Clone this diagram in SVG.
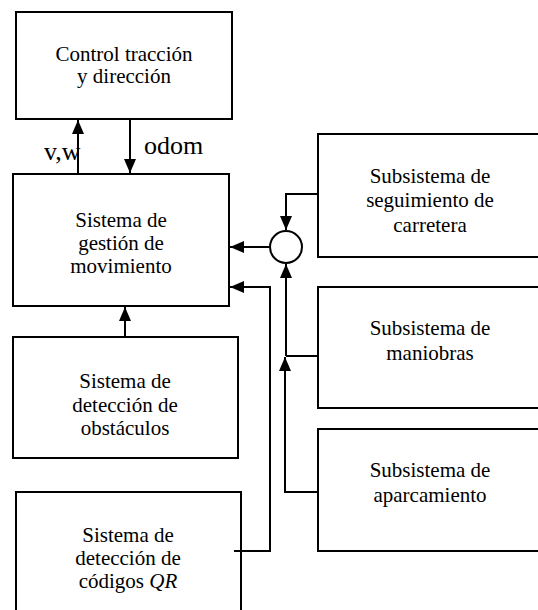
<svg xmlns="http://www.w3.org/2000/svg" width="538" height="610" viewBox="0 0 538 610">
<defs>
<marker id="ah" markerWidth="14" markerHeight="12" refX="14" refY="6" orient="auto" markerUnits="userSpaceOnUse">
<path d="M0,0 L14,6 L0,12 Z" fill="#000"/>
</marker>
</defs>
<rect width="538" height="610" fill="#fff"/>
<g font-family="Liberation Serif, serif" font-size="21" text-anchor="middle" fill="#000">
<g id="n-control">
<rect x="16" y="12" width="216" height="107" fill="#fff" stroke="#000" stroke-width="2"/>
<text x="124" y="61">Control tracción</text>
<text x="124" y="83">y dirección</text>
</g>
<g id="n-gestion">
<rect x="13" y="174" width="216" height="132" fill="#fff" stroke="#000" stroke-width="2"/>
<text x="121" y="227">Sistema de</text>
<text x="121" y="250">gestión de</text>
<text x="121" y="273">movimiento</text>
</g>
<g id="n-obstaculos">
<rect x="13" y="337" width="225" height="121" fill="#fff" stroke="#000" stroke-width="2"/>
<text x="125" y="388">Sistema de</text>
<text x="125" y="412">detección de</text>
<text x="125" y="435">obstáculos</text>
</g>
<g id="n-qr">
<rect x="16" y="492" width="225" height="130" fill="#fff" stroke="#000" stroke-width="2"/>
<text x="128" y="542">Sistema de</text>
<text x="128" y="565">detección de</text>
<text x="128" y="588">códigos <tspan font-style="italic">QR</tspan></text>
</g>
<g id="n-seguimiento">
<rect x="318" y="134" width="230" height="123" fill="#fff" stroke="#000" stroke-width="2"/>
<text x="430" y="183">Subsistema de</text>
<text x="430" y="207">seguimiento de</text>
<text x="430" y="232">carretera</text>
</g>
<g id="n-maniobras">
<rect x="318" y="287" width="230" height="121" fill="#fff" stroke="#000" stroke-width="2"/>
<text x="430" y="335">Subsistema de</text>
<text x="430" y="360">maniobras</text>
</g>
<g id="n-aparcamiento">
<rect x="318" y="429" width="230" height="122" fill="#fff" stroke="#000" stroke-width="2"/>
<text x="430" y="477">Subsistema de</text>
<text x="430" y="502">aparcamiento</text>
</g>
</g>
<g id="n-sum">
<circle cx="286" cy="247" r="16" fill="#fff" stroke="#000" stroke-width="2"/>
</g>
<g id="connectors" fill="none" stroke="#000" stroke-width="2">
<path d="M78,174 V120" marker-end="url(#ah)"/>
<path d="M130,119 V173" marker-end="url(#ah)"/>
<path d="M125,337 V307" marker-end="url(#ah)"/>
<path d="M270,247 H230" marker-end="url(#ah)"/>
<path d="M318,194 H286 V230" marker-end="url(#ah)"/>
<path d="M318,356 H286"/>
<path d="M286,356 V264" marker-end="url(#ah)"/>
<path d="M318,492 H285 V357" marker-end="url(#ah)"/>
<path d="M234,551 H270 V287 H230" marker-end="url(#ah)"/>
</g>
<g id="labels" font-family="Liberation Serif, serif" font-size="26" fill="#000">
<text x="44" y="160">v,w</text>
<text x="144" y="154">odom</text>
</g>
</svg>
